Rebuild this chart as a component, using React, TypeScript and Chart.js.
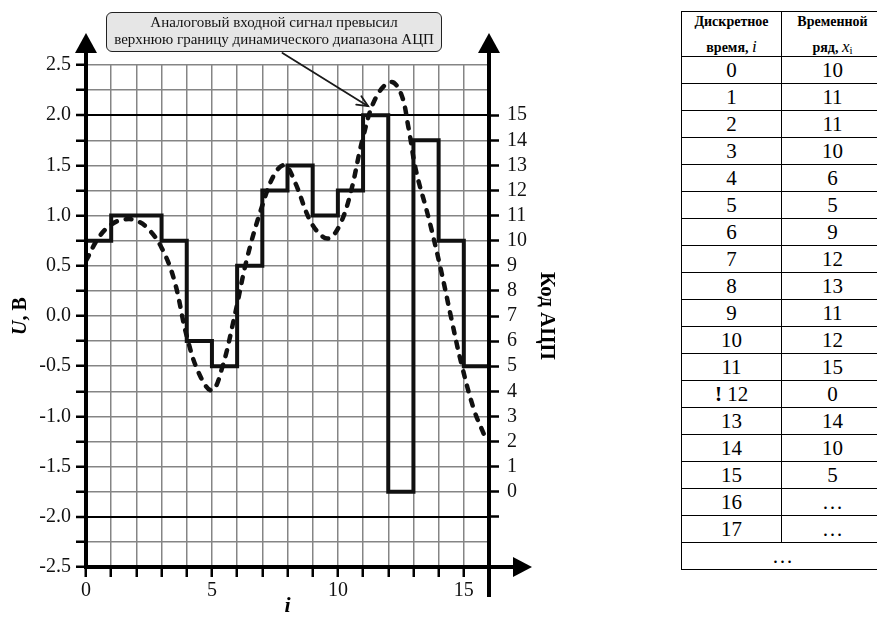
import React, { useEffect, useRef } from 'react';
import { Chart, registerables } from 'chart.js';

Chart.register(...registerables);

// ---------- data ----------
const sampleIndex = [0, 1, 2, 3, 4, 5, 6, 7, 8, 9, 10, 11, 12, 13, 14, 15];
const adcCodes = [10, 11, 11, 10, 6, 5, 9, 12, 13, 11, 12, 15, 0, 14, 10, 5];

const analogT = [0.0, 0.5, 1.0, 1.5, 2.0, 2.5, 3.0, 3.5, 4.0, 4.5, 5.0, 5.4, 5.9, 6.4, 7.0, 7.5, 7.9, 8.3, 8.9, 9.4, 9.7, 10.1, 10.5, 11.0, 11.5, 12.1, 12.5, 12.8, 13.1, 13.6, 14.1, 14.5, 14.9, 15.4, 15.8];
const analogV = [0.55, 0.78, 0.91, 0.96, 0.95, 0.86, 0.68, 0.36, -0.2, -0.58, -0.74, -0.52, 0.0, 0.58, 1.1, 1.42, 1.5, 1.33, 0.95, 0.79, 0.78, 0.92, 1.22, 1.78, 2.17, 2.33, 2.22, 1.88, 1.45, 0.98, 0.45, -0.02, -0.47, -0.93, -1.18];

const xMin = 0;
const xMax = 16;
const vMin = -2.5;
const vMax = 2.5;
const vStep = 0.25;
const codeMin = -3;
const codeMax = 17;
const codeLabelMin = 0;
const codeLabelMax = 15;
const xLabelEvery = 5;
const limitLines = [2.0, -2.0];

const annotationLines = ['Аналоговый входной сигнал превысил', 'верхнюю границу динамического диапазона АЦП'];
const annotationFrom = { x: 7.8, y: 2.62 };
const annotationTo = { x: 11.2, y: 2.09 };

const tableTimes = ['0', '1', '2', '3', '4', '5', '6', '7', '8', '9', '10', '11', '12', '13', '14', '15', '16', '17'];
const tableSeries = ['10', '11', '11', '10', '6', '5', '9', '12', '13', '11', '12', '15', '0', '14', '10', '5', '…', '…'];
const flaggedRow = 12;

// ---------- chart ----------
const FONT = "'Liberation Serif', 'Times New Roman', serif";
const W = 560;
const H = 617;

const decorPlugin = {
  id: 'decor',
  afterDraw(chart: any) {
    const { ctx, chartArea, scales } = chart;
    const xs = scales.x;
    const ys = scales.y;
    const x0 = xs.getPixelForValue(xMin);
    const xe = xs.getPixelForValue(xMax);
    const yb = chartArea.bottom;
    const top = chartArea.top;
    ctx.save();
    ctx.strokeStyle = '#000';
    ctx.fillStyle = '#000';
    ctx.lineWidth = 4;
    ctx.lineCap = 'butt';
    // left axis extension + arrow
    ctx.beginPath();
    ctx.moveTo(x0, yb + 2);
    ctx.lineTo(x0, top - 14);
    ctx.stroke();
    ctx.beginPath();
    ctx.moveTo(x0, top - 32);
    ctx.lineTo(x0 - 11, top - 12);
    ctx.lineTo(x0 + 11, top - 12);
    ctx.closePath();
    ctx.fill();
    // right axis extension + arrow
    ctx.beginPath();
    ctx.moveTo(xe, yb + 30);
    ctx.lineTo(xe, top - 14);
    ctx.stroke();
    ctx.beginPath();
    ctx.moveTo(xe, top - 32);
    ctx.lineTo(xe - 11, top - 12);
    ctx.lineTo(xe + 11, top - 12);
    ctx.closePath();
    ctx.fill();
    // x axis extension + arrow
    ctx.beginPath();
    ctx.moveTo(xe, yb);
    ctx.lineTo(xe + 26, yb);
    ctx.stroke();
    ctx.beginPath();
    ctx.moveTo(xe + 43, yb);
    ctx.lineTo(xe + 24, yb - 10);
    ctx.lineTo(xe + 24, yb + 10);
    ctx.closePath();
    ctx.fill();

    // left title "U, В"
    ctx.save();
    ctx.translate(21, (top + yb) / 2);
    ctx.rotate(-Math.PI / 2);
    ctx.textBaseline = 'middle';
    const f1 = `italic bold 20px ${FONT}`;
    const f2 = `bold 20px ${FONT}`;
    ctx.font = f1;
    const w1 = ctx.measureText('U').width;
    ctx.font = f2;
    const w2 = ctx.measureText(', В').width;
    const sx = -(w1 + w2) / 2;
    ctx.font = f1;
    ctx.fillText('U', sx, 0);
    ctx.font = f2;
    ctx.fillText(', В', sx + w1, 0);
    ctx.restore();

    // annotation arrow
    const ax1 = xs.getPixelForValue(annotationFrom.x);
    const ay1 = ys.getPixelForValue(annotationFrom.y);
    const ax2 = xs.getPixelForValue(annotationTo.x);
    const ay2 = ys.getPixelForValue(annotationTo.y);
    ctx.strokeStyle = '#1a1a1a';
    ctx.lineWidth = 1.8;
    ctx.lineCap = 'round';
    ctx.beginPath();
    ctx.moveTo(ax1, ay1);
    ctx.lineTo(ax2, ay2);
    ctx.stroke();
    const ang = Math.atan2(ay2 - ay1, ax2 - ax1);
    const hl = 12;
    const ha = 0.42;
    ctx.beginPath();
    ctx.moveTo(ax2 - hl * Math.cos(ang - ha), ay2 - hl * Math.sin(ang - ha));
    ctx.lineTo(ax2, ay2);
    ctx.lineTo(ax2 - hl * Math.cos(ang + ha), ay2 - hl * Math.sin(ang + ha));
    ctx.stroke();
    ctx.restore();
  },
};

const isHalf = (v: number) => Math.abs(v * 2 - Math.round(v * 2)) < 1e-9;

function buildConfig(): any {
  const stepData = sampleIndex.map((i, k) => ({ x: i, y: adcCodes[k] }));
  stepData.push({ x: xMax, y: adcCodes[adcCodes.length - 1] });
  const analogData = analogT.map((t, k) => ({ x: t, y: analogV[k] }));
  return {
    type: 'line',
    data: {
      datasets: [
        {
          label: 'codes',
          data: stepData,
          yAxisID: 'y2',
          stepped: 'before',
          borderColor: '#111',
          borderWidth: 4,
          pointRadius: 0,
          fill: false,
          borderJoinStyle: 'miter',
        },
        {
          label: 'analog',
          data: analogData,
          yAxisID: 'y',
          borderColor: '#111',
          borderWidth: 4.5,
          borderDash: [6, 9],
          borderCapStyle: 'round',
          tension: 0.4,
          pointRadius: 0,
          fill: false,
        },
      ],
    },
    options: {
      animation: false,
      responsive: false,
      devicePixelRatio: 1,
      layout: { padding: { top: 65, left: 0, right: 0, bottom: 0 } },
      plugins: { legend: { display: false }, tooltip: { enabled: false }, title: { display: false } },
      scales: {
        x: {
          type: 'linear',
          position: 'bottom',
          min: xMin,
          max: xMax,
          ticks: {
            stepSize: 1,
            autoSkip: false,
            maxRotation: 0,
            padding: 2,
            color: '#111',
            font: { family: FONT, size: 20 },
            callback: (v: number) => (v % xLabelEvery === 0 && v < xMax ? String(v) : ''),
          },
          grid: {
            color: '#858585',
            lineWidth: 1.5,
            tickLength: 10,
            tickWidth: 2.5,
            tickColor: (c: any) => (c.tick && c.tick.value >= xMax ? 'rgba(0,0,0,0)' : '#000'),
          },
          border: { color: '#000', width: 4 },
          title: {
            display: true,
            text: 'i',
            color: '#000',
            padding: 0,
            font: { family: FONT, size: 22, weight: 'bold', style: 'italic', lineHeight: 1 },
          },
          afterFit: (s: any) => {
            s.height = 50;
          },
        },
        y: {
          type: 'linear',
          position: 'left',
          min: vMin,
          max: vMax,
          ticks: {
            stepSize: vStep,
            autoSkip: false,
            padding: 5,
            color: '#111',
            font: { family: FONT, size: 20 },
            callback: (v: number) => (isHalf(v) ? v.toFixed(1) : ''),
          },
          grid: {
            color: (c: any) => (c.tick && limitLines.some((l) => Math.abs(c.tick.value - l) < 1e-9) ? '#000' : '#858585'),
            lineWidth: (c: any) => (c.tick && limitLines.some((l) => Math.abs(c.tick.value - l) < 1e-9) ? 2 : 1.5),
            tickLength: 10,
            tickWidth: 2.5,
            tickColor: '#000',
          },
          border: { color: '#000', width: 4 },
          afterFit: (s: any) => {
            s.width = 86;
          },
        },
        y2: {
          type: 'linear',
          position: 'right',
          min: codeMin,
          max: codeMax,
          ticks: {
            stepSize: 1,
            autoSkip: false,
            padding: 8,
            color: '#111',
            font: { family: FONT, size: 20 },
            callback: (v: number) => (v >= codeLabelMin && v <= codeLabelMax ? String(v) : ''),
          },
          grid: {
            drawOnChartArea: false,
            tickLength: 10,
            tickWidth: 2.5,
            tickColor: (c: any) => (c.tick && c.tick.value >= codeLabelMin - 1 && c.tick.value <= codeLabelMax ? '#000' : 'rgba(0,0,0,0)'),
          },
          border: { color: '#000', width: 4 },
          title: {
            display: true,
            text: 'Код АЦП',
            color: '#000',
            padding: { top: 3, bottom: 0 },
            font: { family: FONT, size: 21, weight: 'bold', lineHeight: 1 },
          },
          afterFit: (s: any) => {
            s.width = W - 489;
          },
        },
      },
    },
    plugins: [decorPlugin],
  };
}

const cellBorder = '1.5px solid #000';

export default function App() {
  const ref = useRef<HTMLCanvasElement>(null);
  useEffect(() => {
    const canvas = ref.current;
    if (!canvas) return;
    Chart.defaults.font.family = FONT;
    const chart = new Chart(canvas, buildConfig());
    return () => chart.destroy();
  }, []);

  const td: React.CSSProperties = {
    border: cellBorder,
    padding: 0,
    textAlign: 'center',
    verticalAlign: 'middle',
    fontFamily: FONT,
    fontSize: 21,
    height: 27,
    lineHeight: '20px',
    boxSizing: 'border-box',
  };
  const hd: React.CSSProperties = {
    border: cellBorder,
    padding: 0,
    textAlign: 'center',
    verticalAlign: 'top',
    fontFamily: FONT,
    height: 45,
    boxSizing: 'border-box',
  };

  return (
    <div
      style={{
        position: 'absolute',
        left: 0,
        top: 0,
        width: 877,
        height: 617,
        overflow: 'hidden',
        background: '#fff',
        fontFamily: FONT,
        color: '#000',
      }}
    >
      <canvas ref={ref} width={W} height={H} style={{ position: 'absolute', left: 0, top: 0, width: W, height: H }} />
      <div
        style={{
          position: 'absolute',
          left: 106,
          top: 12,
          width: 336,
          height: 40,
          boxSizing: 'border-box',
          border: '1.5px solid #222',
          borderRadius: 6,
          background: '#e6e6e6',
          textAlign: 'center',
          fontSize: 15,
          lineHeight: '17px',
          paddingTop: 1,
          color: '#111',
          whiteSpace: 'nowrap',
        }}
      >
        {annotationLines.map((l, k) => (
          <div key={k}>{l}</div>
        ))}
      </div>
      <table
        style={{
          position: 'absolute',
          left: 681,
          top: 11,
          borderCollapse: 'collapse',
          tableLayout: 'fixed',
          width: 202,
          fontFamily: FONT,
          color: '#000',
        }}
      >
        <colgroup>
          <col style={{ width: 100 }} />
          <col style={{ width: 102 }} />
        </colgroup>
        <tbody>
          <tr>
            <td style={hd}>
              <div style={{ fontWeight: 'bold', fontSize: 14, lineHeight: '20px', height: 20 }}>Дискретное</div>
              <div style={{ fontWeight: 'bold', fontSize: 14, lineHeight: '24px', height: 24, position: 'relative', top: 3 }}>
                время, <span style={{ fontStyle: 'italic', fontWeight: 'normal', fontSize: 17 }}>i</span>
              </div>
            </td>
            <td style={hd}>
              <div style={{ fontWeight: 'bold', fontSize: 14, lineHeight: '20px', height: 20 }}>Временной</div>
              <div style={{ fontWeight: 'bold', fontSize: 14, lineHeight: '24px', height: 24, position: 'relative', top: 3 }}>
                ряд, <span style={{ fontStyle: 'italic', fontWeight: 'normal', fontSize: 17 }}>x</span>
                <span style={{ fontWeight: 'normal', fontSize: 11, position: 'relative', top: 2 }}>i</span>
              </div>
            </td>
          </tr>
          {tableTimes.map((t, k) => (
            <tr key={k}>
              <td style={td}>
                {k === flaggedRow ? (
                  <>
                    <b>!</b> {t}
                  </>
                ) : (
                  t
                )}
              </td>
              <td style={td}>{tableSeries[k]}</td>
            </tr>
          ))}
          <tr>
            <td style={td} colSpan={2}>
              …
            </td>
          </tr>
        </tbody>
      </table>
    </div>
  );
}
